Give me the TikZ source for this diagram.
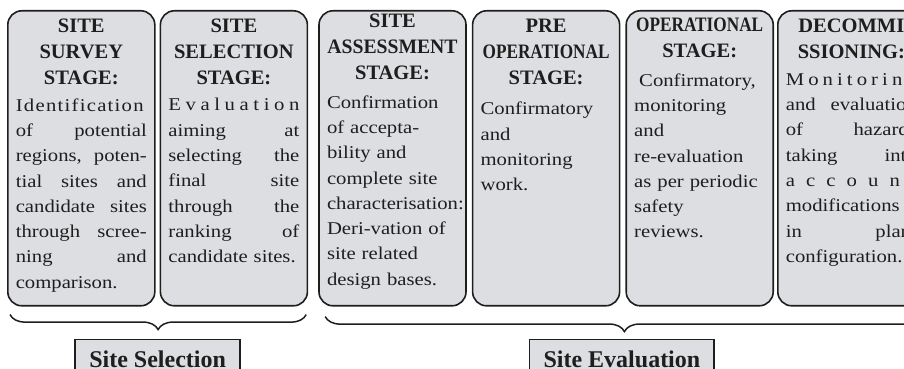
\documentclass[tikz,border=0pt]{standalone}
\usepackage{fontspec}
\setmainfont{Liberation Serif}
\newfontfamily\bodyfont[FakeStretch=1.15]{Liberation Serif}
\usetikzlibrary{positioning,decorations.pathreplacing}
\definecolor{stagegray}{RGB}{221,222,225}
\definecolor{inkline}{RGB}{30,30,30}
\newcommand{\squeezed}[2]{\scalebox{#1}[1]{#2}}
\hyphenpenalty=10000
\exhyphenpenalty=10000

\begin{document}
\begin{tikzpicture}[x=1pt,y=1pt,
	stagebox/.style={draw=inkline, fill=stagegray, line width=1.6pt, rounded corners=14pt, minimum width=147pt, minimum height=295pt, inner sep=0pt},
	stagehead/.style={text width=131pt, align=center, inner sep=0pt, text=inkline, font=\bfseries\fontsize{20.5}{26}\selectfont},
	stagetext/.style={text width=131pt, align=left, inner sep=0pt, text=inkline, font=\bodyfont\fontsize{18}{25.3}\selectfont},
	bracket/.style={draw=inkline, line width=1.5pt, decorate, decoration={brace, mirror, amplitude=15pt}},
	phasebox/.style={draw=inkline, fill=stagegray, line width=1.8pt, inner xsep=14pt, inner ysep=12pt, text height=16.4pt, text depth=5pt, text=inkline, font=\bfseries\fontsize{24}{28}\selectfont}]
\useasboundingbox (0,0) rectangle (904,369);
	\clip (0,0) rectangle (904,369);
	\node [stagebox, anchor = north west] (survey) at (7,359) {};
	\node [stagebox, right = 4pt of survey] (selection) {};
	\node [stagebox, right = 10pt of selection] (assessment) {};
	\node [stagebox, right = 5pt of assessment] (preop) {};
	\node [stagebox, right = 5pt of preop] (operation) {};
	\node [stagebox, right = 3pt of operation] (decom) {};
	\node [stagehead, below = 9pt of survey.north] (surveyhead) {SITE\\SURVEY\\STAGE:};
	\node [stagehead, below = 9pt of selection.north] (selectionhead) {SITE\\SELECTION\\STAGE:};
	\node [stagehead, below = 4pt of assessment.north] (assessmenthead) {SITE\\\squeezed{0.96}{ASSESSMENT}\\STAGE:};
	\node [stagehead, below = 9pt of preop.north] (preophead) {PRE\\\squeezed{0.84}{OPERATIONAL}\\STAGE:};
	\node [stagehead, below = 8pt of operation.north] (operationhead) {\squeezed{0.84}{OPERATIONAL}\\STAGE:};
	\node [stagehead, below = 9pt of decom.north] (decomhead) {DECOMMI\\SSIONING:};
	\node [stagetext, below = 13pt of surveyhead] (surveytext) {{\addfontfeature{LetterSpace=7}Identification}\\of\hfill potential\\regions,\hfill poten-\\tial\hfill sites\hfill and\\candidate\hfill sites\\through\hfill scree-\\ning\hfill and\\comparison.};
	\node [stagetext, below = 13pt of selectionhead] (selectiontext) {E\hfill v\hfill a\hfill l\hfill u\hfill a\hfill t\hfill i\hfill o\hfill n\\aiming\hfill at\\selecting\hfill the\\final\hfill site\\through\hfill the\\ranking\hfill of\\candidate sites.};
	\node [stagetext, below = 15pt of assessmenthead] (assessmenttext) {Confirmation\\of accepta-\\bility and\\complete site\\\mbox{characterisation:}\\Deri-vation of\\site related\\design bases.};
	\node [stagetext, below = 17pt of preophead] (preoptext) {Confirmatory\\and\\monitoring\\work.};
	\node [stagetext, below = 15pt of operationhead] (operationtext) {\hspace*{5pt}Confirmatory,\\monitoring\\and\\re-evaluation\\as per periodic\\safety\\reviews.};
	\node [stagetext, below = 14pt of decomhead] (decomtext) {M\hfill o\hfill n\hfill i\hfill t\hfill o\hfill r\hfill i\hfill n\hfill g\\and\hfill evaluation\\of\hfill hazards\\taking\hfill into\\a\hfill c\hfill c\hfill o\hfill u\hfill n\hfill t\\modifications\\in\hfill plant\\configuration.};
	\draw [bracket] ([shift={(3,-8)}]survey.south west) -- ([shift={(-2,-8)}]selection.south east);
	\draw [bracket] ([shift={(7,-10)}]assessment.south west) -- ([shift={(-2,-10)}]decom.south east);
	\path (survey.south west) -- (selection.south east) coordinate [pos = .5] (selmid);
	\path (assessment.south west) -- (decom.south east) coordinate [pos = .5] (evalmid);
	\node [phasebox, below = 32pt of selmid] (sellabel) {Site Selection};
	\node [phasebox, below = 32pt of evalmid] (evallabel) {Site Evaluation};
\end{tikzpicture}
\end{document}
